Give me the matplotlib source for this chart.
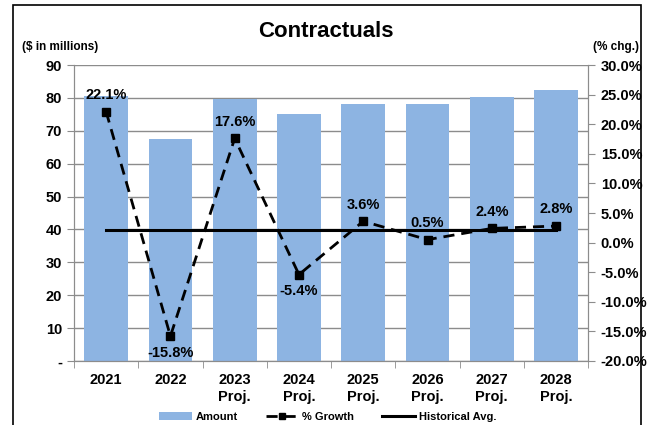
import matplotlib.pyplot as plt
from matplotlib.patches import Rectangle
from matplotlib.ticker import FuncFormatter

# data
categories = ['2021', '2022', '2023\nProj.', '2024\nProj.', '2025\nProj.',
              '2026\nProj.', '2027\nProj.', '2028\nProj.']
amount = [80.5, 67.5, 79.7, 75.1, 78.0, 78.3, 80.2, 82.4]
growth = [22.1, -15.8, 17.6, -5.4, 3.6, 0.5, 2.4, 2.8]
hist_avg = 2.2
label_above = [True, False, True, False, True, True, True, True]

plt.rcParams['font.family'] = ['Liberation Sans', 'DejaVu Sans']
plt.rcParams['font.weight'] = 'bold'

fig = plt.figure(figsize=(6.55, 4.25), dpi=100)
ax = fig.add_axes([0.113, 0.1506, 0.785, 0.6964])
ax2 = ax.twinx()

x = list(range(len(categories)))
bar_color = '#8DB4E2'
ax.bar(x, amount, width=0.68, color=bar_color, zorder=2, label='Amount')
ax.set_ylim(0, 90)
ax.set_yticks(range(0, 91, 10))
ax.yaxis.set_major_formatter(FuncFormatter(lambda v, p: '-' if v == 0 else f'{v:.0f}'))
ax.grid(axis='y', color='#8c8c8c', lw=1, zorder=0)
ax.set_axisbelow(True)
ax.set_xlim(-0.5, len(categories) - 0.5)
ax.set_xticks(x)
ax.set_xticklabels(categories, fontsize=10.5, fontweight='bold', linespacing=1.2)
ax.set_xticks([i - 0.5 for i in range(len(categories) + 1)], minor=True)
ax.tick_params(axis='x', which='major', length=0, pad=9)
ax.tick_params(axis='x', which='minor', length=5, color='#8c8c8c')
ax.tick_params(axis='y', labelsize=10.5, length=5, color='#8c8c8c')

for s in ['top']:
    ax.spines[s].set_visible(False)
    ax2.spines[s].set_visible(False)
for s in ['left', 'bottom', 'right']:
    ax.spines[s].set_color('#8c8c8c')
    ax2.spines[s].set_color('#8c8c8c')

ax2.plot(x, [hist_avg] * len(x), color='black', lw=2.2, zorder=3, label='Historical Avg.')
ax2.plot(x, growth, color='black', lw=2, ls=(0, (4, 2.5)), marker='s', ms=6,
         zorder=4, label='% Growth')
ax2.set_ylim(-20, 30)
ax2.set_yticks(range(-20, 31, 5))
ax2.yaxis.set_major_formatter(FuncFormatter(lambda v, p: f'{v:.1f}%'))
ax2.tick_params(axis='y', labelsize=10.5, length=5, color='#8c8c8c', pad=4)

for i, g in enumerate(growth):
    if label_above[i]:
        ax2.annotate(f'{g:.1f}%', (i, g), xytext=(0, 7), textcoords='offset points',
                     ha='center', va='bottom', fontsize=10.5, fontweight='bold')
    else:
        ax2.annotate(f'{g:.1f}%', (i, g), xytext=(0, -7), textcoords='offset points',
                     ha='center', va='top', fontsize=10.5, fontweight='bold')

fig.text(0.497, 0.925, 'Contractuals', ha='center', va='center', fontsize=16, fontweight='bold')
fig.text(0.034, 0.89, '($ in millions)', ha='left', va='center', fontsize=8.5, fontweight='bold')
fig.text(0.905, 0.89, '(% chg.)', ha='left', va='center', fontsize=8.5, fontweight='bold')

h1, l1 = ax.get_legend_handles_labels()
h2, l2 = ax2.get_legend_handles_labels()
handles = [h1[0], h2[1], h2[0]]
labels = [l1[0], l2[1], l2[0]]
fig.legend(handles, labels, loc='center', bbox_to_anchor=(0.5, 0.02), ncol=3,
           frameon=False, fontsize=8, handlelength=3, columnspacing=2.5,
           handletextpad=0.3, markerscale=0.7)

fig.patches.append(Rectangle((0.02, -0.01), 0.958, 0.998, transform=fig.transFigure,
                             fill=False, edgecolor='black', lw=1.2))

fig.savefig('out.png', dpi=100)
